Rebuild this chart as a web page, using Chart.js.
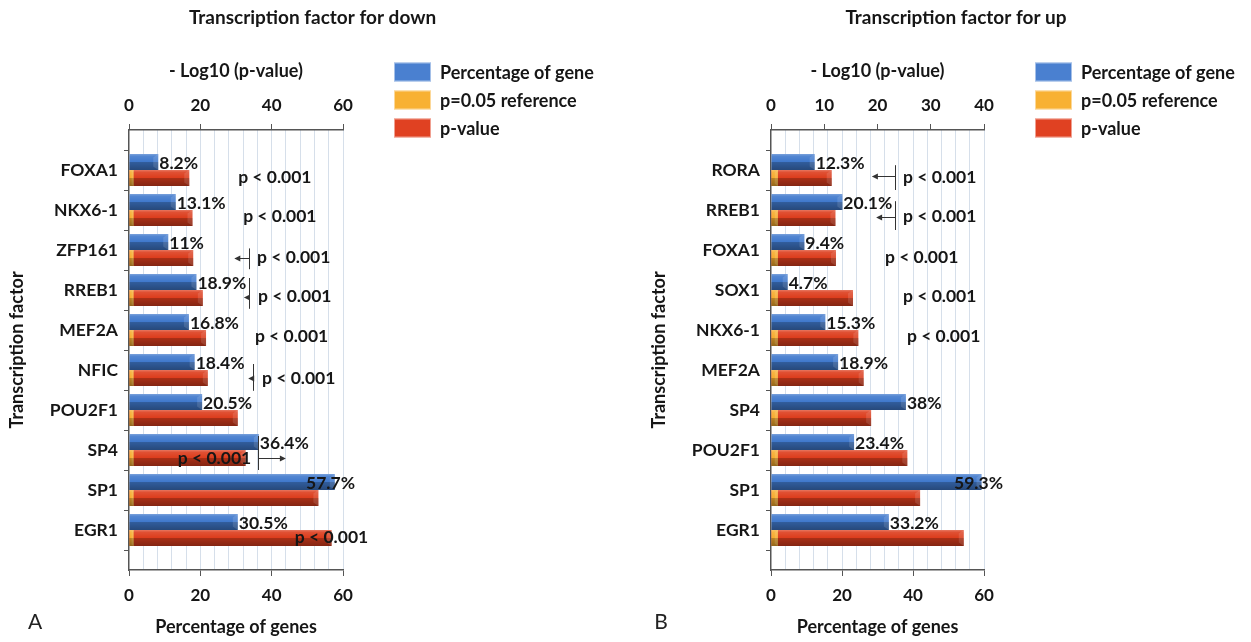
<!DOCTYPE html>
<html><head><meta charset="utf-8">
<script src="https://cdn.jsdelivr.net/npm/chart.js@4.4.1/dist/chart.umd.min.js"></script>
<style>
html,body{margin:0;padding:0;background:#fff;overflow:hidden;width:1251px;height:642px;position:relative}
#wrapA{position:absolute;left:0;top:0;width:625px;height:642px}
#wrapB{position:absolute;left:642px;top:0;width:628px;height:642px}
</style></head><body>
<div id="wrapA"><canvas id="cA"></canvas></div>
<div id="wrapB"><canvas id="cB"></canvas></div>
<script>
// ---------- data ----------
const downCategories = ['FOXA1','NKX6-1','ZFP161','RREB1','MEF2A','NFIC','POU2F1','SP4','SP1','EGR1'];
const downPercent    = [8.2, 13.1, 11, 18.9, 16.8, 18.4, 20.5, 36.4, 57.7, 30.5];
const downReference  = [1.3, 1.3, 1.3, 1.3, 1.3, 1.3, 1.3, 1.3, 1.3, 1.3];
const downLogP       = [16.9, 17.8, 18.0, 20.7, 21.6, 22.1, 30.5, 32.7, 53.1, 56.8];

const upCategories = ['RORA','RREB1','FOXA1','SOX1','NKX6-1','MEF2A','SP4','POU2F1','SP1','EGR1'];
const upPercent    = [12.3, 20.1, 9.4, 4.7, 15.3, 18.9, 38, 23.4, 59.3, 33.2];
const upReference  = [1.3, 1.3, 1.3, 1.3, 1.3, 1.3, 1.3, 1.3, 1.3, 1.3];
const upLogP       = [11.4, 12.1, 12.2, 15.4, 16.4, 17.4, 18.8, 25.6, 28.0, 36.2];

const percentTicks = [0, 20, 40, 60];
const downLogTicks = [0, 20, 40, 60];
const upLogTicks   = [0, 10, 20, 30, 40];

// significance notes (x in percentage-axis units, dy in fractions of a category slot)
const downNotes = [
  {cat:'FOXA1',  x:30.6, dy:0.18}, {cat:'NKX6-1', x:32.0, dy:0.16},
  {cat:'ZFP161', x:35.9, dy:0.19}, {cat:'RREB1',  x:36.2, dy:0.17},
  {cat:'MEF2A',  x:35.3, dy:0.17}, {cat:'NFIC',   x:37.3, dy:0.20},
  {cat:'SP4',    x:13.7, dy:0.20}, {cat:'EGR1',   x:46.5, dy:0.18}
];
const downArrows = [
  {cat:'ZFP161', x:33.6, y1:-0.04, y2:0.48, to:29.8, ay:0.19},
  {cat:'RREB1',  x:33.6, y1:-0.30, y2:0.47, to:32.5, ay:0.17},
  {cat:'NFIC',   x:34.7, y1:-0.15, y2:0.52, to:33.7, ay:0.20},
  {cat:'SP4',    x:36.2, y1:-0.35, y2:0.50, to:43.7, ay:0.20}
];
const upNotes = [
  {cat:'RORA',   x:37.2, dy:0.18}, {cat:'RREB1', x:37.2, dy:0.16},
  {cat:'FOXA1',  x:32.1, dy:0.19}, {cat:'SOX1',  x:37.2, dy:0.17},
  {cat:'NKX6-1', x:38.3, dy:0.17}
];
const upArrows = [
  {cat:'RORA',  x:34.9, y1:-0.12, y2:0.50, to:28.7, ay:0.16},
  {cat:'RREB1', x:34.9, y1:-0.22, y2:0.50, to:29.9, ay:0.18}
];
const noteText = 'p < 0.001';

// ---------- styling ----------
const FONT = 'Lato, "Open Sans", sans-serif';
const INK = '#161616';
const AXIS = '#555';
const BLUE = '#4079cc', YELLOW = '#f6ac2e', RED = '#dc3d1d';
const LEG_BLUE = '#4a80d0', LEG_YELLOW = '#f8b133', LEG_RED = '#e04122';

function bevel(ctx, el) {
  const p = el.getProps(['x','y','base','height'], true);
  const l = Math.min(p.x, p.base), r = Math.max(p.x, p.base);
  const t = p.y - p.height / 2, h = p.height;
  if (!isFinite(l) || r - l < 0.5) return;
  const g = ctx.createLinearGradient(0, t, 0, t + h);
  g.addColorStop(0, 'rgba(255,255,255,0.30)');
  g.addColorStop(0.14, 'rgba(255,255,255,0.10)');
  g.addColorStop(0.48, 'rgba(255,255,255,0.0)');
  g.addColorStop(0.52, 'rgba(0,0,0,0.24)');
  g.addColorStop(1, 'rgba(0,0,0,0.40)');
  ctx.fillStyle = g;
  ctx.fillRect(l, t, r - l, h);
  const f = Math.min(5, (r - l) / 2);
  ctx.fillStyle = 'rgba(255,255,255,0.12)';
  ctx.beginPath();
  ctx.moveTo(r - f, t + f * 0.7); ctx.lineTo(r, t); ctx.lineTo(r, t + h); ctx.lineTo(r - f, t + h - f * 0.7);
  ctx.closePath(); ctx.fill();
}

const decor = {
  id: 'decor',
  afterDatasetDraw(chart, args) {
    const ctx = chart.ctx;
    ctx.save();
    args.meta.data.forEach((el, i) => {
      if (chart.data.datasets[args.index].data[i] == null) return;
      bevel(ctx, el);
    });
    ctx.restore();
  },
  afterDatasetsDraw(chart, args, o) {
    const ctx = chart.ctx, ca = chart.chartArea;
    const xs = chart.scales.x, ys = chart.scales.y;
    const labels = chart.data.labels;
    ctx.save();
    // value labels on percentage bars
    ctx.font = 'bold 17.5px ' + FONT;
    ctx.fillStyle = INK;
    ctx.textBaseline = 'middle';
    ctx.textAlign = 'left';
    const meta = chart.getDatasetMeta(0);
    meta.data.forEach((el, i) => {
      const v = chart.data.datasets[0].data[i];
      if (v == null) return;
      const txt = v + '%';
      const w = ctx.measureText(txt).width;
      const x = Math.min(el.x + 1, ca.right + o.labelLimit - w);
      ctx.fillText(txt, x, el.y + 1);
    });
    // significance notes
    const slot = ys.getPixelForValue(1) - ys.getPixelForValue(0);
    o.notes.forEach(n => {
      const cy = ys.getPixelForValue(labels.indexOf(n.cat));
      ctx.fillText(noteText, xs.getPixelForValue(n.x), cy + n.dy * slot);
    });
    ctx.strokeStyle = '#333';
    ctx.fillStyle = '#333';
    ctx.lineWidth = 1;
    o.arrows.forEach(a => {
      const cy = ys.getPixelForValue(labels.indexOf(a.cat));
      const vx = Math.round(xs.getPixelForValue(a.x)) + 0.5;
      ctx.beginPath();
      ctx.moveTo(vx, cy + a.y1 * slot); ctx.lineTo(vx, cy + a.y2 * slot);
      const ay = Math.round(cy + a.ay * slot) + 0.5;
      const tx = xs.getPixelForValue(a.to);
      ctx.moveTo(vx, ay); ctx.lineTo(tx, ay);
      ctx.stroke();
      const dir = tx < vx ? -1 : 1;
      ctx.beginPath();
      ctx.moveTo(tx + dir * 1, ay);
      ctx.lineTo(tx - dir * 5, ay - 3);
      ctx.lineTo(tx - dir * 5, ay + 3);
      ctx.closePath(); ctx.fill();
    });
    ctx.restore();
  },
  afterDraw(chart, args, o) {
    const ctx = chart.ctx, ca = chart.chartArea;
    ctx.save();
    // legend
    const rows = [72, 100, 128];
    const x0 = ca.right + 51;
    ctx.font = 'bold 18px ' + FONT;
    ctx.textBaseline = 'middle';
    ctx.textAlign = 'left';
    chart.data.datasets.forEach((ds, i) => {
      ctx.fillStyle = ds.legendColor;
      ctx.fillRect(x0, rows[i] - 9.5, 37, 19);
      ctx.strokeStyle = 'rgba(255,255,255,0.5)';
      ctx.lineWidth = 1;
      ctx.strokeRect(x0 + 0.5, rows[i] - 9, 36, 18);
      ctx.fillStyle = INK;
      ctx.fillText(ds.label, x0 + 46, rows[i] + 1);
    });
    // panel letter
    ctx.font = '21px ' + FONT;
    ctx.fillStyle = '#222';
    ctx.textAlign = 'center';
    ctx.fillText(o.letter, o.letterX, 622);
    ctx.restore();
  }
};

function pad(arr) { return [null].concat(arr, [null]); }

function makeChart(id, cfg) {
  const labels = [''].concat(cfg.categories, ['']);
  return new Chart(document.getElementById(id), {
    type: 'bar',
    data: {
      labels: labels,
      datasets: [
        {label: 'Percentage of gene', data: pad(cfg.percent), xAxisID: 'x', stack: 'gene',
         backgroundColor: BLUE, legendColor: LEG_BLUE, categoryPercentage: 0.8, barPercentage: 1, borderWidth: 0},
        {label: 'p=0.05 reference', data: pad(cfg.reference), xAxisID: 'x2', stack: 'p',
         backgroundColor: YELLOW, legendColor: LEG_YELLOW, categoryPercentage: 0.8, barPercentage: 1, borderWidth: 0},
        {label: 'p-value', data: pad(cfg.logp), xAxisID: 'x2', stack: 'p',
         backgroundColor: RED, legendColor: LEG_RED, categoryPercentage: 0.8, barPercentage: 1, borderWidth: 0}
      ]
    },
    options: {
      indexAxis: 'y',
      responsive: true,
      maintainAspectRatio: false,
      animation: false,
      events: [],
      layout: {padding: 0},
      plugins: {
        legend: {display: false},
        tooltip: {enabled: false},
        title: {display: true, text: cfg.title, color: INK,
                font: {family: FONT, size: 19, weight: 'bold'}, padding: {top: 6, bottom: 0}},
        decor: {notes: cfg.notes, arrows: cfg.arrows, letter: cfg.letter, letterX: cfg.letterX, labelLimit: cfg.labelLimit}
      },
      scales: {
        y: {
          type: 'category', position: 'left', offset: false,
          grid: {drawOnChartArea: false, drawTicks: true, tickLength: 5, color: AXIS, lineWidth: 1},
          border: {display: true, color: AXIS, width: 1.5},
          ticks: {autoSkip: false, color: INK, padding: 6, font: {family: FONT, size: 17.5, weight: 'bold'}},
          title: {display: true, text: 'Transcription factor', color: INK, padding: {top: 6, bottom: 0},
                  font: {family: FONT, size: 18, weight: 'bold'}},
          afterFit(s) { s.width = 129; }
        },
        x: {
          type: 'linear', position: 'bottom', min: 0, max: 60, stacked: false,
          afterBuildTicks(s) {
            const t = [];
            for (let v = 0; v <= 60; v += 4) t.push({value: v});
            s.ticks = t;
          },
          grid: {
            drawOnChartArea: true, drawTicks: true, tickLength: 6, lineWidth: 1,
            color: c => (c.tick && c.tick.value === 0) ? 'rgba(0,0,0,0)' : '#d6dfea',
            tickColor: c => (c.tick && percentTicks.indexOf(c.tick.value) >= 0) ? AXIS : 'rgba(0,0,0,0)'
          },
          border: {display: true, color: AXIS, width: 1.5},
          ticks: {autoSkip: false, maxRotation: 0, color: INK, padding: 9,
                  font: {family: FONT, size: 17, weight: 'bold'},
                  callback: v => percentTicks.indexOf(v) >= 0 ? v : ''},
          title: {display: true, text: 'Percentage of genes', color: INK, padding: {top: 0, bottom: 4},
                  font: {family: FONT, size: 18, weight: 'bold'}},
          afterFit(s) { s.height = 72; }
        },
        x2: {
          type: 'linear', position: 'top', min: 0, max: cfg.logTicks[cfg.logTicks.length - 1], stacked: false,
          afterBuildTicks(s) { s.ticks = cfg.logTicks.map(v => ({value: v})); },
          grid: {drawOnChartArea: false, drawTicks: true, tickLength: 6, color: AXIS, lineWidth: 1},
          border: {display: true, color: AXIS, width: 1.5},
          ticks: {autoSkip: false, maxRotation: 0, color: INK, padding: 8,
                  font: {family: FONT, size: 17, weight: 'bold'}},
          title: {display: true, text: '- Log10 (p-value)', color: INK, padding: {top: 31.5, bottom: 0},
                  font: {family: FONT, size: 18, weight: 'bold'}},
          afterFit(s) { s.height = 101.2; }
        },
        side: {
          type: 'linear', position: 'right', display: false,
          afterFit(s) { s.width = cfg.sideWidth; }
        }
      }
    },
    plugins: [decor]
  });
}

function build() {
  makeChart('cA', {
    title: 'Transcription factor for down', categories: downCategories, percent: downPercent,
    reference: downReference, logp: downLogP, logTicks: downLogTicks,
    notes: downNotes, arrows: downArrows, letter: 'A', letterX: 35, labelLimit: 12, sideWidth: 282
  });
  makeChart('cB', {
    title: 'Transcription factor for up', categories: upCategories, percent: upPercent,
    reference: upReference, logp: upLogP, logTicks: upLogTicks,
    notes: upNotes, arrows: upArrows, letter: 'B', letterX: 19, labelLimit: 19, sideWidth: 286
  });
}
if (document.fonts && document.fonts.load) {
  Promise.all([document.fonts.load('bold 16px Lato'), document.fonts.load('16px Lato')]).then(build, build);
} else { build(); }
</script>
</body></html>
